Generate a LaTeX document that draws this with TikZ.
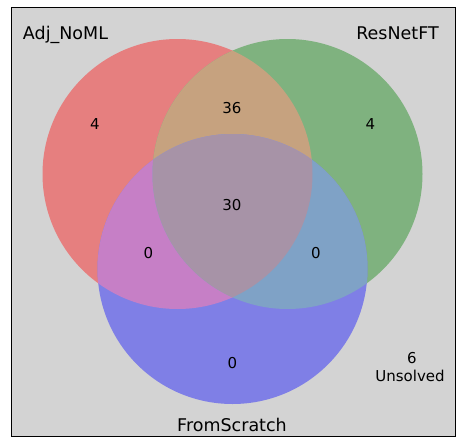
\documentclass[tikz,border=0pt]{standalone}
\usepackage{fontspec}
\setmainfont{DejaVu Sans}
\definecolor{bgc}{RGB}{211,211,211}
\definecolor{cA}{RGB}{230,127,127}
\definecolor{cB}{RGB}{127,178,127}
\definecolor{cC}{RGB}{127,127,230}
\definecolor{cAB}{RGB}{198,162,127}
\definecolor{cAC}{RGB}{198,127,198}
\definecolor{cBC}{RGB}{127,162,198}
\definecolor{cABC}{RGB}{167,147,167}
\tikzset{
  setlabel/.style={font=\fontsize{17.5}{21}\selectfont, anchor=base, inner sep=0pt},
  cnt/.style={font=\fontsize{15}{18}\selectfont, anchor=center, inner sep=0pt},
}
\begin{document}
\begin{tikzpicture}[x=1pt,y=-1pt]
\useasboundingbox (0,0) rectangle (461,447);
\fill[white] (0,0) rectangle (461,447);
\fill[bgc] (11,7.5) rectangle (455,436);
\def\cA{(177.5,174) circle[radius=135]}
\def\cB{(287.5,174) circle[radius=135]}
\def\cC{(232.5,269) circle[radius=135]}
\fill[cA] \cA;
\fill[cB] \cB;
\fill[cC] \cC;
\begin{scope}\clip \cA; \fill[cAB] \cB; \end{scope}
\begin{scope}\clip \cA; \fill[cAC] \cC; \end{scope}
\begin{scope}\clip \cB; \fill[cBC] \cC; \end{scope}
\begin{scope}\clip \cA; \clip \cB; \fill[cABC] \cC; \end{scope}
\draw[black, line width=1pt] (11,7.5) rectangle (455,436);
\node[setlabel] (la) at (65.5,39.3) {Adj\_NoML};
\node[setlabel] (lb) at (397.5,39.3) {ResNetFT};
\node[setlabel] (lc) at (232,431.7) {FromScratch};
\node[cnt] (n100) at (95,124.5) {4};
\node[cnt] (n010) at (370.3,124.5) {4};
\node[cnt] (n110) at (232,108.3) {36};
\node[cnt] (n111) at (232,205) {30};
\node[cnt] (n101) at (148.5,253.5) {0};
\node[cnt] (n011) at (316,253.5) {0};
\node[cnt] (n001) at (232.3,363) {0};
\node[cnt] (n6) at (412,357.7) {6};
\node[font=\fontsize{15}{18}\selectfont, anchor=base, inner sep=0pt] (uns) at (410,381.5) {Unsolved};
\end{tikzpicture}
\end{document}
